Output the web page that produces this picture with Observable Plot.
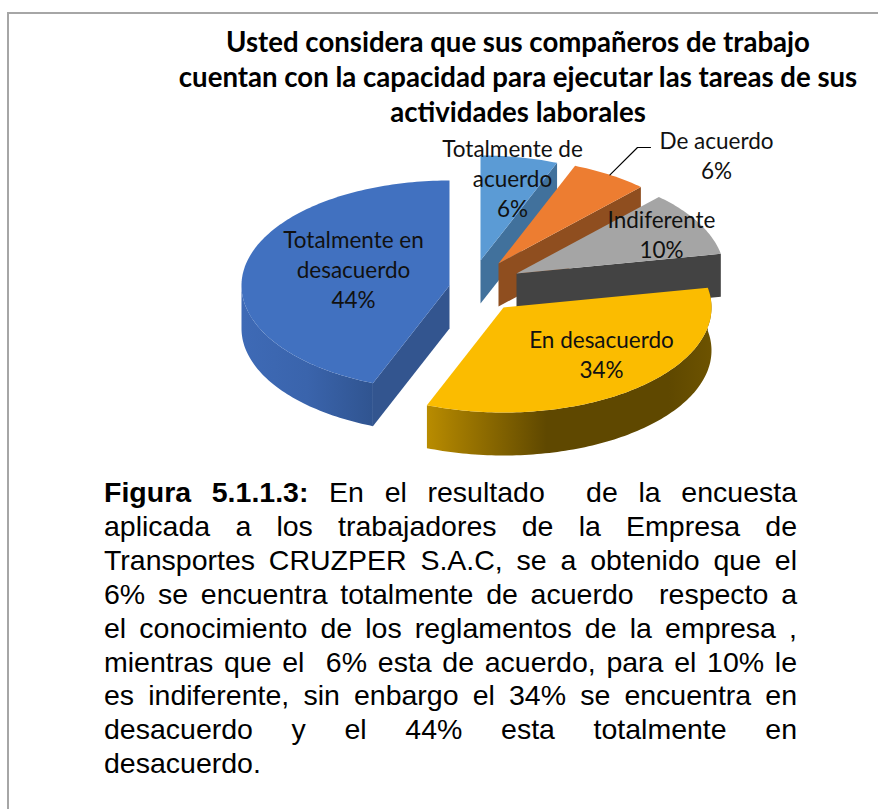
<!DOCTYPE html>
<html lang="es">
<head>
<meta charset="utf-8">
<script src="https://cdn.jsdelivr.net/npm/d3@7"></script>
<script src="https://cdn.jsdelivr.net/npm/@observablehq/plot@0.6"></script>
<style>
html,body{margin:0;padding:0;background:#fff;}
body{width:878px;height:809px;overflow:hidden;position:relative;}
#frame{position:absolute;left:7px;top:12px;right:-4px;bottom:-4px;border:2px solid #a6a6a6;box-sizing:border-box;pointer-events:none;}
#title{box-sizing:border-box;height:130px;padding-top:24px;width:878px;font:700 27.6px/35px Lato,sans-serif;color:#000;}
#title div{position:relative;left:79px;text-align:center;white-space:nowrap;}
#chart svg{display:block;}
#caption{position:absolute;left:104px;top:476px;width:693px;font:28.5px/33.9px "Liberation Sans",Arial,sans-serif;word-spacing:-0.5px;color:#000;}
#caption div{text-align:justify;text-align-last:justify;white-space:pre-wrap;}
#caption div:last-child{text-align-last:left;}
</style>
</head>
<body>
<div id="frame"></div>
<div id="title"></div>
<div id="chart"></div>
<div id="caption"></div>
<script>
// ---- data ----
const titleLines = [
  "Usted considera que sus compañeros de trabajo",
  "cuentan con la capacidad para ejecutar las tareas de sus",
  "actividades laborales"
];
const categories = ["Totalmente de acuerdo", "De acuerdo", "Indiferente", "En desacuerdo", "Totalmente en desacuerdo"];
const values = [6, 6, 10, 34, 44];
const labelBreaks = [["Totalmente de", "acuerdo"], ["De acuerdo"], ["Indiferente"], ["En desacuerdo"], ["Totalmente en", "desacuerdo"]];
const captionBold = "Figura 5.1.1.3:";
const captionLines = [
  " En el resultado  de la encuesta",
  "aplicada a los trabajadores de la Empresa de",
  "Transportes CRUZPER S.A.C, se a obtenido que el",
  "6% se encuentra totalmente de acuerdo  respecto a",
  "el conocimiento de los reglamentos de la empresa ,",
  "mientras que el  6% esta de acuerdo, para el 10% le",
  "es indiferente, sin enbargo el 34% se encuentra en",
  "desacuerdo y el 44% esta totalmente en",
  "desacuerdo."
];

// ---- styles ----
const topColors  = ["#5b9bd5", "#ed7d31", "#a5a5a5", "#fbbc00", "#4171c0"];
const cutColors  = ["#41719c", "#8f4e1f", "#434343", "#5f4800", "#33558f"];

// ---- 3D pie layout (page pixels) ----
const radiusX = 208, radiusY = 105, depth = 43;
const apexX = [480, 498, 516, 503, 449];
const apexY = [260, 263, 273, 307, 285];
const labelX = [512, 716, 661, 601, 353];
const labelY = [177, 154, 233, 353, 268];
const width = 878, chartTop = 130, chartHeight = 330;

// ---- geometry derived from the values ----
const total = d3.sum(values);
const stops = d3.cumsum(values).map(v => v / total * 2 * Math.PI);
const starts = [0, ...stops.slice(0, -1)];
const rim = (i, a, drop = 0) => ({x: apexX[i] + radiusX * Math.sin(a), y: apexY[i] - radiusY * Math.cos(a) + drop});
function arc(i, a0, a1, drop = 0) {
  const n = Math.max(2, Math.ceil(Math.abs(a1 - a0) / 0.02));
  return d3.range(n + 1).map(k => rim(i, a0 + (a1 - a0) * k / n, drop));
}
const apex = (i, drop = 0) => ({x: apexX[i], y: apexY[i] + drop});
const topFace = i => [apex(i), ...arc(i, starts[i], stops[i])];
const cutFace = (i, a) => [apex(i), rim(i, a), rim(i, a, depth), apex(i, depth)];
const wallFace = (i, a0, a1) => [...arc(i, a0, a1), ...arc(i, a1, a0, depth)];
const poly = (pts, fill) => Plot.line(pts, {x: "x", y: "y", fill, stroke: "none", curve: "linear"});

const gradient = (id, stopsList) => () => {
  const defs = d3.create("svg:defs");
  const g = defs.append("linearGradient").attr("id", id).attr("x1", 0).attr("x2", 1).attr("y1", 0).attr("y2", 0);
  for (const [o, c] of stopsList) g.append("stop").attr("offset", o).attr("stop-color", c);
  return defs.node();
};

const marks = [
  gradient("wallYellow", [[0, "#b98c00"], [0.1, "#a37b00"], [0.42, "#5f4800"], [0.85, "#5f4800"], [1, "#6d5300"]]),
  gradient("wallBlue", [[0, "#3e6ab6"], [0.5, "#3a64ac"], [1, "#305490"]])
];
// slices 0..2 show only their right cut face and top
for (const i of [0, 1, 2]) {
  marks.push(poly(cutFace(i, stops[i]), cutColors[i]));
  marks.push(poly(topFace(i), topColors[i]));
}
// yellow: front wall
marks.push(poly(wallFace(3, starts[3], stops[3]), "url(#wallYellow)"));
marks.push(poly(topFace(3), topColors[3]));
// blue: cut face, outer wall, top
marks.push(poly(cutFace(4, starts[4]), cutColors[4]));
marks.push(poly(wallFace(4, starts[4], 1.5 * Math.PI), "url(#wallBlue)"));
marks.push(poly(topFace(4), topColors[4]));

// leader line of "De acuerdo"
const leaderStart = rim(1, (starts[1] + stops[1]) / 2);
marks.push(Plot.line([leaderStart, {x: 637, y: 147}, {x: 650, y: 147}], {x: "x", y: "y", stroke: "#000", strokeWidth: 1.2}));

// labels
const labels = categories.map((c, i) => ({text: [...labelBreaks[i], values[i] + "%"].join("\n"), x: labelX[i], y: labelY[i]}));
marks.push(Plot.text(labels, {
  x: "x", y: "y", text: "text", fill: "#111", fontSize: 22.5,
  fontFamily: "Lato, sans-serif", lineHeight: 1.32, textAnchor: "middle", lineAnchor: "middle"
}));

const plot = Plot.plot({
  width, height: chartHeight,
  margin: 0,
  style: {background: "transparent", overflow: "visible"},
  x: {domain: [0, width], range: [0, width], axis: null},
  y: {domain: [chartTop, chartTop + chartHeight], range: [0, chartHeight], axis: null},
  marks
});
document.getElementById("chart").append(plot);

document.getElementById("title").innerHTML = titleLines.map(t => `<div>${t}</div>`).join("");
const cap = document.getElementById("caption");
captionLines.forEach((t, i) => {
  const d = document.createElement("div");
  if (i === 0) { const b = document.createElement("b"); b.textContent = captionBold; d.append(b); }
  d.append(t);
  cap.append(d);
});
</script>
</body>
</html>
